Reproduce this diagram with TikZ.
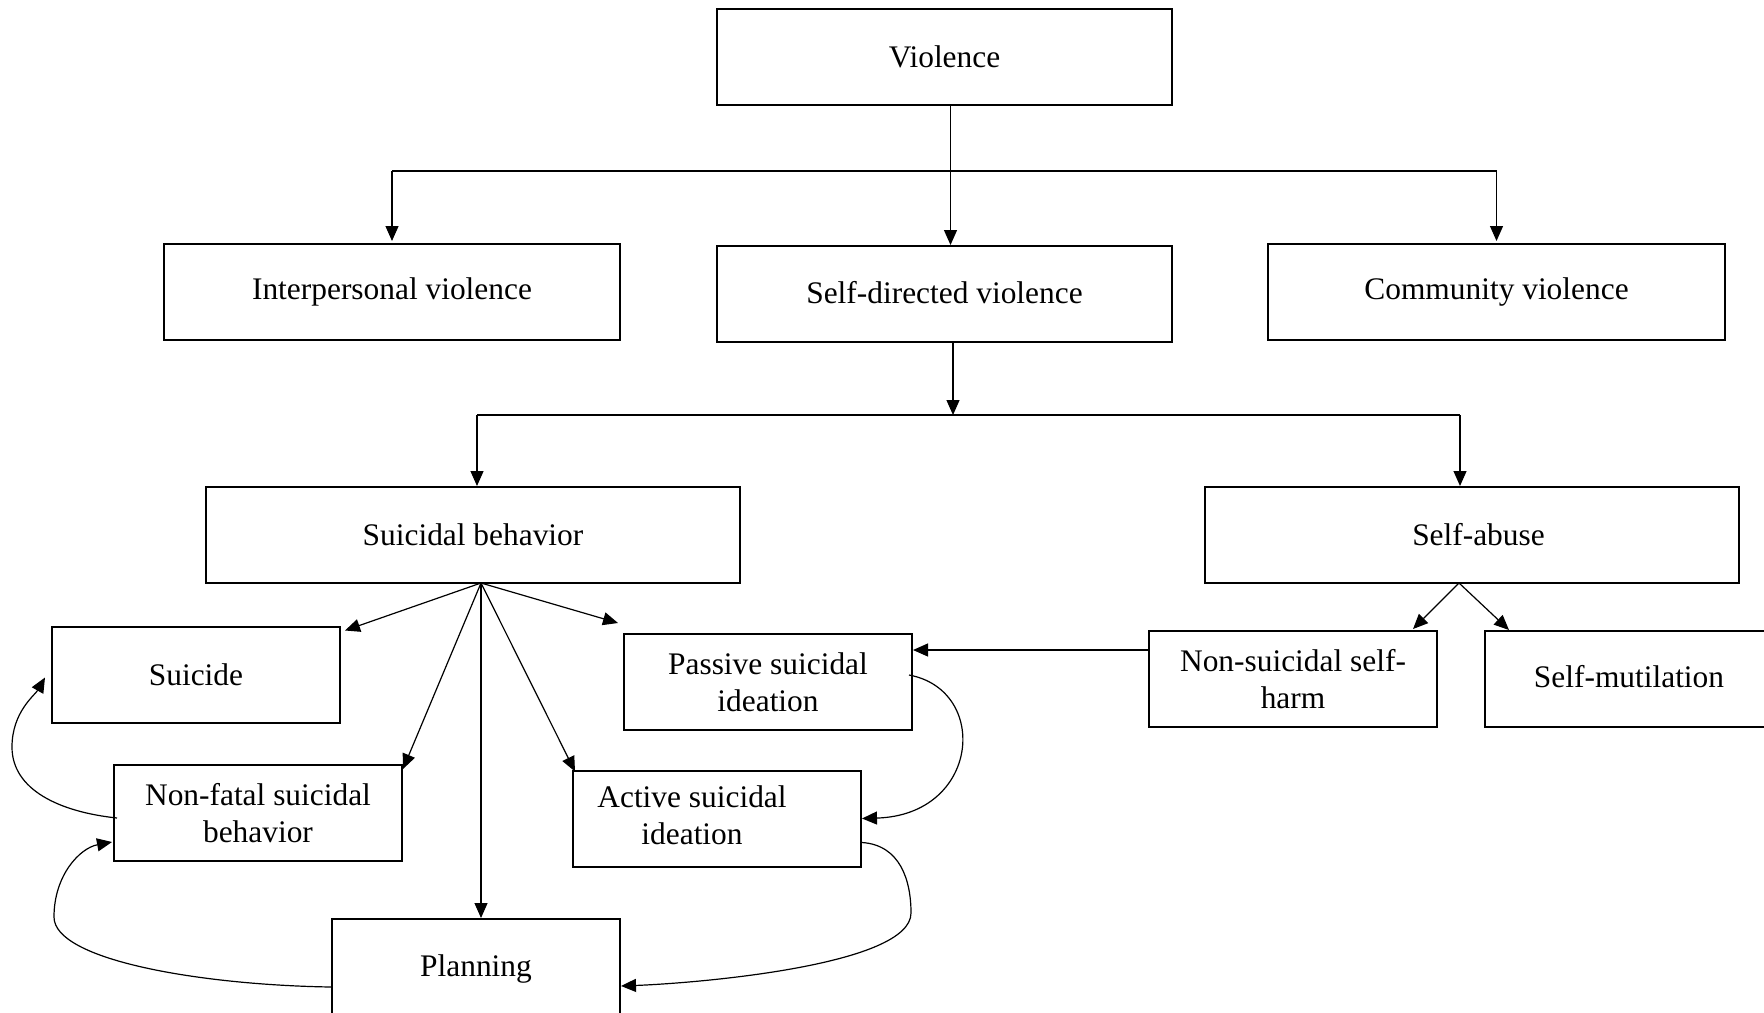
\documentclass[tikz,border=0pt]{standalone}
\usepackage{fontspec}
\setmainfont{Liberation Serif}
\usetikzlibrary{arrows.meta,calc}
\begin{document}
\begin{tikzpicture}[x=0.5pt,y=-0.5pt,
  box/.style={draw,line width=1pt,rectangle,inner sep=0pt,minimum width=144pt,minimum height=48pt,align=center,font=\fontsize{15.7}{18.5}\selectfont},
  arr/.style={-{Triangle[length=7.5pt,width=6.5pt]},line width=0.6pt},
  conn/.style={line width=0.6pt}]
\useasboundingbox (0,0) rectangle (1764,1012);
\clip (0,0) rectangle (1764,1012);
% boxes
\node[box,minimum width=227.5pt] (viol) at (944.5,57) {\raisebox{0.8pt}{Violence}};
\node[box,minimum width=228pt] (inter) at (392,292) {\raisebox{1.7pt}{Interpersonal violence}};
\node[box,minimum width=227.5pt] (sdv) at (944.5,294) {\raisebox{1.7pt}{Self-directed violence}};
\node[box,minimum width=228.5pt] (comm) at (1496.5,292) {\raisebox{1.7pt}{Community violence}};
\node[box,minimum width=267pt] (sb) at (473,535) {\raisebox{-1pt}{Suicidal behavior}};
\node[box,minimum width=267pt] (sa) at (1472,535) {\raisebox{-3.2pt}{Self-abuse}\hspace*{-6.5pt}};
\node[box] (suicide) at (196,674.5) {\raisebox{-2.2pt}{Suicide}};
\node[box] (passive) at (768,682) {Passive suicidal\\ideation};
\node[box] (nssh) at (1293,679) {Non-suicidal self-\\harm};
\node[box] (smut) at (1629,679) {\raisebox{2.2pt}{Self-mutilation}};
\node[box] (nonfatal) at (258,813) {Non-fatal suicidal\\behavior};
\node[box] (active) at (717,818.5) {\begin{tabular}{@{}c@{}}Active suicidal\\ideation\end{tabular}\hspace*{25pt}};
\node[box,minimum height=50pt] (planning) at (476,969) {\raisebox{-1pt}{Planning}};
% top level
\coordinate (bar1) at (944.5,171);
\draw[arr] ($(viol.south)+(6,0)$) -- ($(sdv.north)+(6,0)$);
\draw[conn] (bar1 -| inter.north) -- (bar1 -| comm.north);
\draw[arr] (bar1 -| inter.north) -- ($(inter.north)+(0,-2)$);
\draw[arr] (bar1 -| comm.north) -- ($(comm.north)+(0,-2)$);
% second level
\coordinate (bar2) at (953,415);
\coordinate (b2l) at (477,415);
\coordinate (b2r) at (1460,415);
\draw[arr] ($(sdv.south)+(8.5,0)$) -- (bar2);
\draw[conn] (b2l) -- (b2r);
\draw[arr] (b2l) -- (b2l |- sb.north);
\draw[arr] (b2r) -- (b2r |- sa.north);
% suicidal behavior fan
\coordinate (sbo) at (481,583);
\draw[arr] (sbo) -- ($(suicide.north east)+(4,5)$);
\draw[arr] (sbo) -- ($(passive.north west)+(-5,-10)$);
\draw[arr] (sbo) -- ($(nonfatal.north east)+(0,5)$);
\draw[arr] (sbo) -- ($(active.north west)+(3,2)$);
\draw[arr] (sbo) -- (sbo |- planning.north);
% self-abuse fan
\coordinate (sao) at (1459,583);
\draw[arr] (sao) -- ($(nssh.north east)+(-25,-1)$);
\draw[arr] (sao) -- ($(smut.north west)+(25,0)$);
\draw[arr] ($(nssh.west)+(0,-29)$) -- ($(passive.east)+(0,-32)$);
% curves
\draw[arr] ($(passive.east)+(-4,-7)$) .. controls (990,690) and (980,815) .. (active.east);
\draw[arr] ($(active.east)+(0,24)$) .. controls (900,845) and (911,880) .. (911,913) .. controls (911,965) and (700,983) .. ($(planning.east)+(0,17)$);
\draw[arr] ($(nonfatal.west)+(4,5)$) .. controls (60,812) and (12,790) .. (12,747) .. controls (12,712) and (35,695) .. ($(suicide.west)+(-6,3)$);
\draw[arr] ($(planning.west)+(0,18)$) .. controls (200,985) and (54,960) .. (54,917) .. controls (54,875) and (80,848) .. ($(nonfatal.west)+(-1,29)$);
\end{tikzpicture}
\end{document}
